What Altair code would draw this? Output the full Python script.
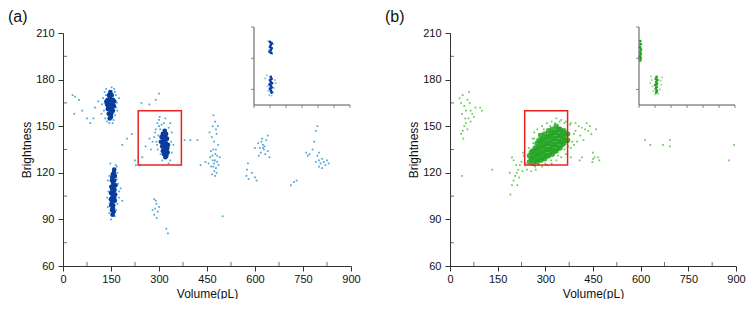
import altair as alt
import pandas as pd

# ---------------- axes / ticks ----------------
x_ticks = [0, 150, 300, 450, 600, 750, 900]
y_ticks = [60, 90, 120, 150, 180, 210]
x_minor = [75, 225, 375, 525, 675, 825]
y_minor = [75, 105, 135, 165, 195]
box_x, box_x2, box_y, box_y2 = [235], [370], [125], [160]
inset_x_ticks = [0, 1, 2, 3, 4, 5, 6]
inset_y_ticks = [50, 150, 250]

# ---------------- panel (a) : dense cores ----------------
a_core_1 = [(148,172),(144,170),(152,170),(140,167),(148,167),(156,167),(138,164),(145,164),
            (152,164),(159,163),(140,161),(148,161),(156,160),(143,158),(151,158),(146,155),
            (150,156),(136,166),(160,166),(147,169),(144,166),(152,161),(141,163),(155,165),
            (149,159),(146,162)]
a_core_2 = [(160,122),(156,119),(162,118),(153,115),(160,115),(151,111),(158,111),(164,112),
            (150,107),(157,107),(163,106),(150,103),(156,103),(162,102),(151,99),(157,99),
            (153,96),(158,95),(155,93),(159,120),(154,109),(161,109),(153,101),(157,113),
            (155,105),(160,104),(154,117),(156,97)]
a_core_3 = [(318,147),(312,145),(322,145),(308,143),(316,143),(325,142),(306,140),(314,140),
            (322,139),(328,138),(310,137),(318,137),(326,136),(312,134),(320,134),(327,133),
            (316,132),(323,131),(320,130),(314,141),(324,135),(318,140),(312,138),(320,143),
            (316,135),(322,136)]

# ---------------- panel (a) : sparse points ----------------
a_halo_1 = [(125,168),(130,172),(135,174),(160,174),(165,170),(168,165),(170,160),(128,160),
            (132,155),(138,153),(158,154),(163,157),(122,164),(155,152),(110,166),(100,162),
            (175,168),(120,158),(145,152),(162,172),(130,165),(166,162),(134,170),(152,175)]
a_halo_left = [(30,170),(38,169),(50,167),(35,158),(60,160),(75,155),(85,152),(95,155),
               (245,165),(290,167),(300,171),(270,164)]
a_halo_2 = [(148,126),(165,125),(170,120),(140,115),(172,113),(175,108),(142,108),(138,104),
            (170,100),(175,104),(145,94),(162,92),(166,96),(180,110),(140,98),(168,124),
            (185,102),(150,90),(145,118),(168,116),(146,100)]
a_halo_3 = [(290,148),(295,152),(300,154),(285,143),(280,140),(292,140),(300,150),(335,152),
            (340,146),(338,140),(340,133),(335,128),(310,128),(305,132),(296,135),(275,135),
            (270,142),(330,126),(345,138),(288,146),(302,156),(320,155),(258,137),(248,130),
            (240,125),(380,141),(298,144),(304,148),(294,138),(308,151),(315,152),(330,149)]
a_halo_470 = [(470,157),(475,153),(478,148),(468,150),(480,145),(472,140),(465,143),(485,138),
              (470,135),(476,132),(460,130),(468,128),(475,128),(482,127),(455,126),(463,124),
              (470,124),(478,123),(486,125),(473,121),(480,120),(466,119),(490,130),(445,127),
              (430,125),(478,135),(462,134),(484,150),(458,146),(472,126),(467,131),(475,118),
              (482,131)]
a_halo_625 = [(620,140),(625,138),(630,137),(615,136),(628,135),(622,142),(635,141),(640,144),
              (610,139),(632,132),(640,134),(612,131),(618,133),(625,136),(600,136),(645,130),
              (575,122),(573,118),(580,116),(600,117),(605,115),(590,120),(578,126),
              (712,112),(722,114),(730,115)]
a_halo_800 = [(790,147),(795,150),(785,140),(760,133),(765,131),(770,132),(780,135),(795,131),
              (800,128),(805,126),(810,129),(815,127),(820,125),(790,127),(800,133),(825,128),
              (830,126),(800,124),(810,123)]
a_halo_low = [(285,103),(292,100),(288,97),(296,95),(285,93),(293,91),(300,98),(290,102),
              (280,96),(323,84),(328,81),(499,92),(185,138),(200,142),(215,145),(225,128),
              (228,125),(398,141),(420,141)]

# ---------------- panel (b) ----------------
b_core = [(250,127),(250,131),(262,126),(262,130),(262,134),(274,127),(274,131),(274,135),
          (274,139),(286,128),(286,132),(286,136),(286,140),(286,144),(298,129),(298,133),
          (298,137),(298,141),(298,145),(310,131),(310,135),(310,139),(310,143),(310,147),
          (322,132),(322,136),(322,140),(322,144),(322,148),(334,134),(334,138),(334,142),
          (334,146),(334,150),(346,136),(346,140),(346,144),(346,148),(358,139),(358,143),
          (358,147),(370,141),(370,145),
          (256,129),(256,133),(268,128),(268,132),(268,136),(280,129),(280,133),(280,137),
          (280,141),(292,130),(292,134),(292,138),(292,142),(304,131),(304,135),(304,139),
          (304,143),(316,133),(316,137),(316,141),(316,145),(328,134),(328,138),(328,142),
          (328,146),(340,136),(340,140),(340,144),(340,148),(352,138),(352,142),(352,146),
          (364,141),(364,145)]
b_halo_left = [(30,168),(35,165),(40,170),(45,163),(38,158),(50,160),(55,167),(60,172),
               (62,165),(65,160),(58,155),(50,152),(45,150),(40,147),(35,145),(42,142),
               (70,158),(75,156),(80,162),(95,162),(100,160),(48,155),(55,148),(65,153),
               (38,118),(133,122)]
b_halo_tail = [(190,106),(195,112),(200,115),(205,118),(210,120),(215,122),(220,125),(225,127),
               (228,121),(218,117),(232,131),(208,125),(200,128),(195,130),(188,120),(212,112),
               (238,126),(242,122),(230,133)]
b_halo_main = [(260,142),(265,146),(275,148),(290,150),(305,152),(320,153),(335,155),(350,154),
               (365,153),(380,152),(395,152),(405,150),(415,149),(425,148),(435,147),(440,150),
               (410,144),(420,141),(400,140),(390,138),(380,136),(365,132),(350,130),(335,128),
               (320,126),(305,125),(290,124),(270,122),(255,121),(395,147),(430,152),(445,145),
               (460,148),(455,130),(470,128),(450,133),(448,127),(415,130),(408,128),(380,130),
               (255,135),(248,136),(262,139),(268,124),(280,125),(300,126),(318,128),(340,131),
               (360,135),(372,137),(385,140),(390,145),(378,151),(360,152),(345,153),(330,152),
               (315,150),(295,148),(280,145),(265,142)]
b_halo_far = [(614,141),(630,138),(670,138),(692,141),(692,137),(894,138),(878,128),(450,129),
              (466,130)]

# ---------------- insets ----------------
a_inset_core = [(1.0,202),(1.1,198),(1.05,192),(1.0,186),(1.1,182),(1.05,176),(0.98,170),
                (1.08,167),(1.05,90),(1.1,84),(1.0,80),(1.05,74),(1.12,70),(0.98,66),(1.05,62),
                (1.1,56),(1.0,52),(1.06,46),(1.1,40)]
a_inset_halo = [(0.8,95),(0.7,85),(1.3,80),(1.35,70),(0.85,60),(1.25,55),(0.9,45),(1.2,40),
                (0.95,32),(1.1,30),(0.9,205),(1.2,195),(0.92,175),(1.15,163)]
b_inset_core = [(0.08,205),(0.1,195),(0.06,185),(0.12,178),(0.08,170),(0.1,163),(0.06,156),
                (0.1,150),(0.08,143),(1.1,90),(1.05,84),(1.15,80),(1.08,74),(1.12,68),
                (1.02,64),(1.1,58),(1.05,52),(1.12,46),(1.08,40)]
b_inset_halo = [(0.75,92),(0.8,80),(1.35,78),(1.4,65),(0.85,60),(1.3,50),(0.9,45),(1.2,36),
                (1.0,34),(0.7,70),(1.45,88)]


def pts(*lists):
    return pd.DataFrame([p for lst in lists for p in lst], columns=["x", "y"])


FONT = "Liberation Sans"
AX = dict(domainColor="#333", tickColor="#333", tickSize=5, labelFontSize=11,
          titleFontSize=12, labelFont=FONT, titleFont=FONT, labelColor="#111",
          titleColor="#111", titleFontWeight="normal", grid=False, minExtent=0,
          labelFlush=False)

box_df = pd.DataFrame({"x": box_x, "x2": box_x2, "y": box_y, "y2": box_y2})
xminor_df = pd.DataFrame({"v": x_minor, "base": [y_ticks[0]] * len(x_minor)})
yminor_df = pd.DataFrame({"v": y_minor, "base": [x_ticks[0]] * len(y_minor)})
ins_xt_df = pd.DataFrame({"v": inset_x_ticks, "base": [0] * len(inset_x_ticks)})
ins_yt_df = pd.DataFrame({"v": inset_y_ticks, "base": [0] * len(inset_y_ticks)})
ins_frame_df = pd.DataFrame({"x": [0, 0], "x2": [inset_x_ticks[-1], 0],
                             "y": [0, 0], "y2": [0, inset_y_ticks[-1]]})

H = 233


def panel(tag, tag_dx, core, halo, core_color, halo_color, core_size, core_opacity,
          ins_core, ins_halo, ins_core_size, width):
    xs = alt.Scale(domain=[0, 900], nice=False, zero=False)
    ys = alt.Scale(domain=[60, 210], nice=False, zero=False)
    xax = alt.Axis(values=x_ticks, title="Volume(pL)", labelPadding=2, titlePadding=4, **AX)
    yax = alt.Axis(values=y_ticks, title="Brightness", labelPadding=4, titlePadding=2, **AX)

    def enc(xf="x", yf="y"):
        return dict(x=alt.X(f"{xf}:Q", scale=xs, axis=xax),
                    y=alt.Y(f"{yf}:Q", scale=ys, axis=yax))

    halo_l = alt.Chart(halo).mark_square(size=3, color=halo_color, opacity=1).encode(**enc())
    core_l = alt.Chart(core).mark_circle(size=core_size, color=core_color,
                                         opacity=core_opacity).encode(**enc())
    box_l = alt.Chart(box_df).mark_rect(fillOpacity=0, stroke="#e8231f", strokeWidth=1.5).encode(
        x=alt.X("x:Q", scale=xs, axis=xax), x2="x2:Q",
        y=alt.Y("y:Q", scale=ys, axis=yax), y2="y2:Q")
    xmin_l = alt.Chart(xminor_df).mark_tick(size=4, thickness=1, color="#333",
                                            orient="vertical", yOffset=-2).encode(**enc("v", "base"))
    ymin_l = alt.Chart(yminor_df).mark_tick(size=4, thickness=1, color="#333",
                                            orient="horizontal", xOffset=2).encode(**enc("base", "v"))

    # inset drawn in the same panel via its own pixel-ranged scales
    ix0, ix1 = width - 97, width - 1
    ixs = alt.Scale(domain=[0, 6], range=[ix0, ix1], nice=False, zero=False)
    iys = alt.Scale(domain=[0, 250], range=[72, -6], nice=False, zero=False)

    def ienc(xf="x", yf="y"):
        return dict(x=alt.X(f"{xf}:Q", scale=ixs, axis=None),
                    y=alt.Y(f"{yf}:Q", scale=iys, axis=None))

    ins_frame = alt.Chart(ins_frame_df).mark_rule(color="#555", strokeWidth=1).encode(
        x=alt.X("x:Q", scale=ixs, axis=None), x2="x2:Q",
        y=alt.Y("y:Q", scale=iys, axis=None), y2="y2:Q")
    ins_xt = alt.Chart(ins_xt_df).mark_tick(size=3, thickness=1, color="#555",
                                            orient="vertical", yOffset=1.5).encode(**ienc("v", "base"))
    ins_yt = alt.Chart(ins_yt_df).mark_tick(size=3, thickness=1, color="#555",
                                            orient="horizontal", xOffset=-1.5).encode(**ienc("base", "v"))
    ins_h = alt.Chart(ins_halo).mark_square(size=3, color=halo_color).encode(**ienc())
    ins_c = alt.Chart(ins_core).mark_circle(size=ins_core_size, color=core_color, opacity=1).encode(**ienc())

    main = alt.layer(halo_l, core_l, box_l, xmin_l, ymin_l)
    inset = alt.layer(ins_frame, ins_xt, ins_yt, ins_h, ins_c)

    return alt.layer(main, inset).resolve_scale(x="independent", y="independent").properties(
        width=width, height=H,
        title=alt.TitleParams(tag, anchor="start", frame="group", fontSize=16,
                              fontWeight="normal", font=FONT, color="#111",
                              offset=2, dx=tag_dx))


pa = panel("(a)", -55, pts(a_core_1, a_core_2, a_core_3),
           pts(a_halo_1, a_halo_left, a_halo_2, a_halo_3, a_halo_470, a_halo_625, a_halo_800, a_halo_low),
           "#0b3c9c", "#4aa8d8", 22, 1, pts(a_inset_core), pts(a_inset_halo), 8, 288)
pb = panel("(b)", -65, pts(b_core),
           pts(b_halo_left, b_halo_tail, b_halo_main, b_halo_far),
           "#22a322", "#66cc55", 30, 0.85, pts(b_inset_core), pts(b_inset_halo), 8, 286)

chart = alt.hconcat(pa, pb, spacing=24).properties(
    padding={"left": 0, "top": 0, "right": 0, "bottom": 0}
).configure_view(stroke=None)

chart.save("out.html", embed_options={"renderer": "svg", "actions": False})
